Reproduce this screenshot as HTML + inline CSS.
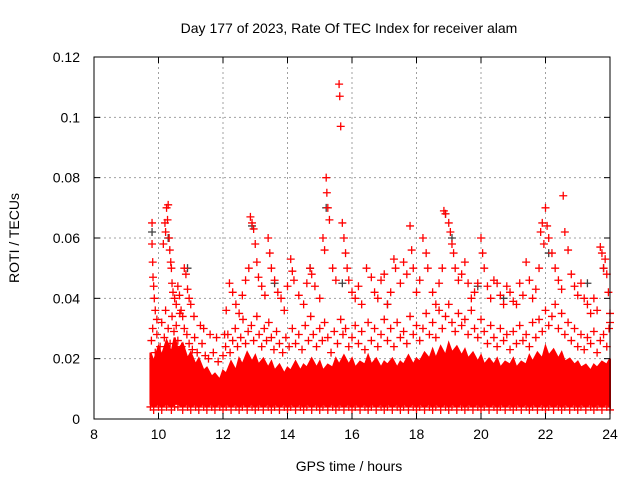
<!DOCTYPE html>
<html><head><meta charset="utf-8"><style>
body{margin:0;background:#fff;}
svg{display:block;font-family:"Liberation Sans",sans-serif;}
</style></head><body>
<svg id="chart" width="640" height="480" viewBox="0 0 640 480" xmlns="http://www.w3.org/2000/svg">
<rect width="640" height="480" fill="#fff"/>
<text x="349" y="33" font-size="14" text-anchor="middle">Day 177 of 2023, Rate Of TEC Index for receiver alam</text>
<text transform="translate(19,238) rotate(-90)" font-size="14" text-anchor="middle">ROTI / TECUs</text>
<text x="349" y="471" font-size="14" text-anchor="middle">GPS time / hours</text>
<g id="grid"></g>
<g id="band"></g>
<g id="points"></g>
<g id="axes"></g>
</svg>
<script>
const xTicks=[8,10,12,14,16,18,20,22,24];
const yTicks=[0,0.02,0.04,0.06,0.08,0.1,0.12];
const yTickLabels=["0","0.02","0.04","0.06","0.08","0.1","0.12"];
const bandTimes=[9.75,9.85,10,10.1,10.25,10.4,10.5,10.6,10.75,10.9,11,11.15,11.25,11.4,11.5,11.65,11.75,11.9,12,12.1,12.25,12.4,12.5,12.6,12.75,12.9,13,13.1,13.25,13.4,13.5,13.6,13.75,13.9,14,14.1,14.25,14.4,14.5,14.6,14.75,14.9,15,15.1,15.25,15.4,15.5,15.6,15.75,15.9,16,16.1,16.25,16.4,16.5,16.6,16.75,16.9,17,17.1,17.25,17.4,17.5,17.6,17.75,17.9,18,18.1,18.25,18.4,18.5,18.6,18.75,18.9,19,19.1,19.25,19.4,19.5,19.6,19.75,19.9,20,20.1,20.25,20.4,20.5,20.6,20.75,20.9,21,21.1,21.25,21.4,21.5,21.6,21.75,21.9,22,22.1,22.25,22.4,22.5,22.6,22.75,22.9,23,23.1,23.25,23.4,23.5,23.6,23.75,23.9,24];
const bandHigh=[0.022,0.019,0.024,0.021,0.026,0.022,0.027,0.023,0.025,0.02,0.022,0.018,0.02,0.016,0.017,0.014,0.015,0.013,0.016,0.015,0.019,0.016,0.02,0.018,0.022,0.019,0.021,0.018,0.02,0.017,0.019,0.016,0.018,0.015,0.017,0.016,0.019,0.016,0.018,0.017,0.02,0.017,0.019,0.016,0.018,0.017,0.02,0.018,0.021,0.018,0.02,0.017,0.019,0.018,0.021,0.018,0.02,0.017,0.019,0.018,0.02,0.017,0.019,0.018,0.021,0.018,0.02,0.019,0.022,0.02,0.023,0.02,0.024,0.021,0.025,0.022,0.024,0.021,0.023,0.02,0.022,0.019,0.021,0.018,0.02,0.018,0.02,0.017,0.019,0.018,0.02,0.017,0.019,0.018,0.021,0.019,0.022,0.02,0.024,0.021,0.023,0.02,0.022,0.019,0.02,0.018,0.019,0.017,0.018,0.016,0.018,0.017,0.019,0.018,0.02];
const bandLow=[0.005,0.004,0.005,0.004,0.005,0.004,0.005,0.005,0.004,0.005,0.004,0.005,0.004,0.005,0.004,0.005,0.004,0.005,0.004,0.005,0.004,0.005,0.004,0.005,0.004,0.005,0.004,0.005,0.004,0.005,0.004,0.005,0.004,0.005,0.004,0.005,0.004,0.005,0.004,0.005,0.004,0.005,0.004,0.005,0.004,0.005,0.004,0.005,0.004,0.005,0.004,0.005,0.004,0.005,0.004,0.005,0.004,0.005,0.004,0.005,0.004,0.005,0.004,0.005,0.004,0.005,0.004,0.005,0.004,0.005,0.004,0.005,0.004,0.005,0.004,0.005,0.004,0.005,0.004,0.005,0.004,0.005,0.004,0.005,0.004,0.005,0.004,0.005,0.004,0.005,0.004,0.005,0.004,0.005,0.004,0.005,0.004,0.005,0.004,0.005,0.004,0.005,0.004,0.005,0.004,0.005,0.004,0.005,0.004,0.005,0.004,0.005,0.004,0.005,0.004];
const midTimes=[9.78,9.82,9.9,9.95,10.05,10.1,10.18,10.22,10.3,10.36,10.42,10.48,10.55,10.6,10.66,10.72,10.8,10.88,10.95,11.05,11.12,11.2,11.35,11.45,11.55,11.7,11.85,12.0,12.08,12.15,12.22,12.3,12.38,12.45,12.55,12.62,12.7,12.78,12.88,12.95,13.05,13.12,13.2,13.28,13.35,13.42,13.5,13.58,13.66,13.75,13.85,13.95,14.05,14.15,14.25,14.35,14.45,14.55,14.65,14.72,14.8,14.9,15.0,15.08,15.15,15.25,15.35,15.45,15.55,15.65,15.72,15.8,15.9,16.0,16.1,16.2,16.3,16.4,16.5,16.6,16.7,16.8,16.9,17.0,17.1,17.2,17.3,17.4,17.5,17.6,17.7,17.8,17.9,18.0,18.1,18.2,18.3,18.4,18.5,18.6,18.7,18.8,18.9,19.0,19.1,19.2,19.3,19.4,19.5,19.6,19.7,19.8,19.9,20.0,20.1,20.2,20.3,20.4,20.5,20.6,20.7,20.8,20.9,21.0,21.1,21.2,21.3,21.4,21.5,21.6,21.7,21.8,21.9,22.0,22.1,22.2,22.3,22.4,22.5,22.6,22.7,22.8,22.9,23.0,23.1,23.2,23.3,23.4,23.5,23.6,23.7,23.8,23.9,23.97];
const midValues=[0.026,0.03,0.022,0.028,0.024,0.032,0.027,0.036,0.03,0.025,0.034,0.029,0.031,0.026,0.035,0.024,0.03,0.028,0.025,0.023,0.027,0.022,0.025,0.021,0.02,0.022,0.019,0.021,0.024,0.028,0.022,0.026,0.03,0.024,0.027,0.033,0.025,0.029,0.031,0.026,0.034,0.028,0.024,0.03,0.026,0.032,0.027,0.023,0.029,0.025,0.022,0.027,0.024,0.03,0.025,0.028,0.023,0.031,0.026,0.034,0.028,0.024,0.03,0.026,0.032,0.027,0.022,0.029,0.025,0.033,0.028,0.03,0.024,0.027,0.031,0.025,0.029,0.023,0.032,0.026,0.03,0.024,0.028,0.033,0.026,0.03,0.024,0.032,0.027,0.029,0.025,0.034,0.028,0.031,0.026,0.03,0.035,0.028,0.032,0.027,0.036,0.03,0.034,0.038,0.032,0.029,0.035,0.031,0.033,0.028,0.036,0.03,0.027,0.033,0.029,0.025,0.031,0.027,0.024,0.03,0.026,0.028,0.023,0.029,0.025,0.031,0.026,0.028,0.024,0.032,0.027,0.033,0.029,0.036,0.031,0.034,0.038,0.03,0.035,0.028,0.032,0.026,0.03,0.024,0.028,0.023,0.027,0.025,0.029,0.022,0.026,0.028,0.024,0.03,0.027];
const ptTimes=[9.8,9.8,9.82,9.83,9.85,9.87,9.9,9.95,10.15,10.2,10.22,10.25,10.28,10.3,10.33,10.35,10.38,10.4,10.42,10.45,10.5,10.55,10.6,10.65,10.7,10.75,10.8,10.85,10.9,10.95,11.0,11.1,11.3,11.4,11.6,11.8,12.05,12.1,12.2,12.3,12.4,12.5,12.6,12.7,12.8,12.85,12.9,12.95,13.0,13.05,13.1,13.2,13.3,13.4,13.45,13.5,13.6,13.7,13.8,13.9,14.0,14.1,14.15,14.2,14.35,14.5,14.6,14.7,14.75,14.85,15.0,15.1,15.15,15.2,15.22,15.25,15.3,15.4,15.5,15.6,15.62,15.65,15.7,15.75,15.8,15.85,15.9,16.0,16.1,16.2,16.3,16.45,16.6,16.7,16.8,16.9,17.0,17.1,17.2,17.3,17.35,17.5,17.6,17.7,17.8,17.85,17.9,18.0,18.1,18.2,18.3,18.35,18.5,18.6,18.7,18.8,18.85,18.9,19.0,19.05,19.1,19.15,19.2,19.3,19.4,19.5,19.6,19.7,19.8,19.9,20.0,20.05,20.1,20.2,20.3,20.4,20.5,20.6,20.7,20.8,20.9,21.0,21.1,21.2,21.3,21.4,21.5,21.6,21.7,21.8,21.85,21.9,21.95,22.0,22.05,22.1,22.2,22.3,22.4,22.5,22.55,22.6,22.7,22.8,22.9,23.0,23.1,23.2,23.3,23.4,23.5,23.6,23.7,23.75,23.8,23.85,23.9,23.95,24.0,24.0];
const ptValues=[0.065,0.058,0.052,0.047,0.044,0.04,0.036,0.033,0.058,0.065,0.062,0.07,0.066,0.071,0.06,0.056,0.052,0.05,0.045,0.042,0.04,0.038,0.044,0.041,0.036,0.034,0.05,0.048,0.043,0.04,0.038,0.034,0.031,0.03,0.028,0.027,0.028,0.036,0.045,0.042,0.038,0.035,0.041,0.046,0.05,0.067,0.065,0.063,0.058,0.052,0.047,0.044,0.041,0.06,0.055,0.05,0.046,0.042,0.04,0.036,0.044,0.053,0.049,0.046,0.041,0.038,0.045,0.05,0.048,0.044,0.04,0.06,0.056,0.08,0.075,0.07,0.066,0.05,0.046,0.111,0.107,0.097,0.065,0.06,0.055,0.05,0.046,0.042,0.04,0.044,0.038,0.05,0.047,0.042,0.04,0.046,0.048,0.038,0.042,0.053,0.05,0.045,0.052,0.048,0.064,0.056,0.05,0.042,0.046,0.06,0.055,0.05,0.042,0.038,0.045,0.05,0.069,0.068,0.065,0.062,0.058,0.055,0.05,0.046,0.048,0.052,0.045,0.04,0.042,0.045,0.06,0.055,0.05,0.044,0.04,0.046,0.045,0.041,0.038,0.044,0.042,0.039,0.038,0.045,0.041,0.052,0.046,0.04,0.043,0.05,0.062,0.065,0.058,0.07,0.064,0.06,0.055,0.05,0.046,0.043,0.074,0.062,0.056,0.048,0.044,0.041,0.045,0.04,0.038,0.035,0.04,0.036,0.057,0.055,0.05,0.053,0.048,0.042,0.035,0.032,0.038];
const grayTimes=[9.8,10.3,10.9,12.9,13.6,14.7,15.2,15.7,17.1,18.9,19.1,19.9,20.7,22.1,23.3,23.8];
const grayValues=[0.062,0.06,0.05,0.064,0.045,0.05,0.07,0.045,0.038,0.068,0.06,0.044,0.04,0.055,0.045,0.05];

const L=94,R=610,T=57,B=419;
const xs=v=>L+(v-8)/16*(R-L);
const ys=v=>B-v/0.12*(B-T);
const NS="http://www.w3.org/2000/svg";
function mk(tag,attrs,parent){const e=document.createElementNS(NS,tag);for(const k in attrs)e.setAttribute(k,attrs[k]);parent.appendChild(e);return e;}
const grid=document.getElementById('grid'),axes=document.getElementById('axes'),band=document.getElementById('band'),pts=document.getElementById('points');
xTicks.forEach(t=>{
  const x=xs(t);
  if(t>8&&t<24){const g=mk('line',{x1:x,x2:x,y1:T,y2:B,stroke:'#a0a0a0','stroke-dasharray':'2,3'},grid);}
  mk('line',{x1:x,x2:x,y1:B,y2:B-6,stroke:'#000'},axes);mk('line',{x1:x,x2:x,y1:T,y2:T+6,stroke:'#000'},axes);
  const tx=mk('text',{x:x,y:B+20,'font-size':14,'text-anchor':'middle'},axes);tx.textContent=t;
  
  
});
yTicks.forEach((t,i)=>{
  const y=ys(t);
  if(t>0&&t<0.12){const g=mk('line',{x1:L,x2:R,y1:y,y2:y,stroke:'#a0a0a0','stroke-dasharray':'2,3'},grid);}
  mk('line',{x1:L,x2:L+6,y1:y,y2:y,stroke:'#000'},axes);mk('line',{x1:R,x2:R-6,y1:y,y2:y,stroke:'#000'},axes);
  const tx=mk('text',{x:L-14,y:y+5,'font-size':14,'text-anchor':'end'},axes);tx.textContent=yTickLabels[i];
  
  
});
const frame=mk('rect',{x:L,y:T,width:R-L,height:B-T,fill:'none',stroke:'#000','stroke-width':1},axes);


let d='M'+xs(bandTimes[0])+','+ys(bandLow[0]);
bandTimes.forEach((t,i)=>{d+=' L'+xs(t)+','+ys(bandHigh[i]);});
for(let i=bandTimes.length-1;i>=0;i--)d+=' L'+xs(bandTimes[i])+','+ys(bandLow[i]);
const bp=mk('path',{d:d+'Z',fill:'#ff0000',stroke:'#ff0000','stroke-width':2,'stroke-linejoin':'miter'},band);


function plus(t,v,col){
  const x=xs(t),y=ys(v);
  const p=mk('path',{d:`M${x-4},${y}H${x+4}M${x},${y-4}V${y+4}`,stroke:col,'stroke-width':1.3,fill:'none'},pts);
  
  
}
bandTimes.forEach((t,i)=>{plus(t,bandLow[i]-0.001,'#ff0000');});
midTimes.forEach((t,i)=>{plus(t,midValues[i],'#ff0000');});
grayTimes.forEach((t,i)=>plus(t,grayValues[i],'#404040'));
ptTimes.forEach((t,i)=>{plus(t,ptValues[i],'#ff0000');});
</script>
</body></html>
